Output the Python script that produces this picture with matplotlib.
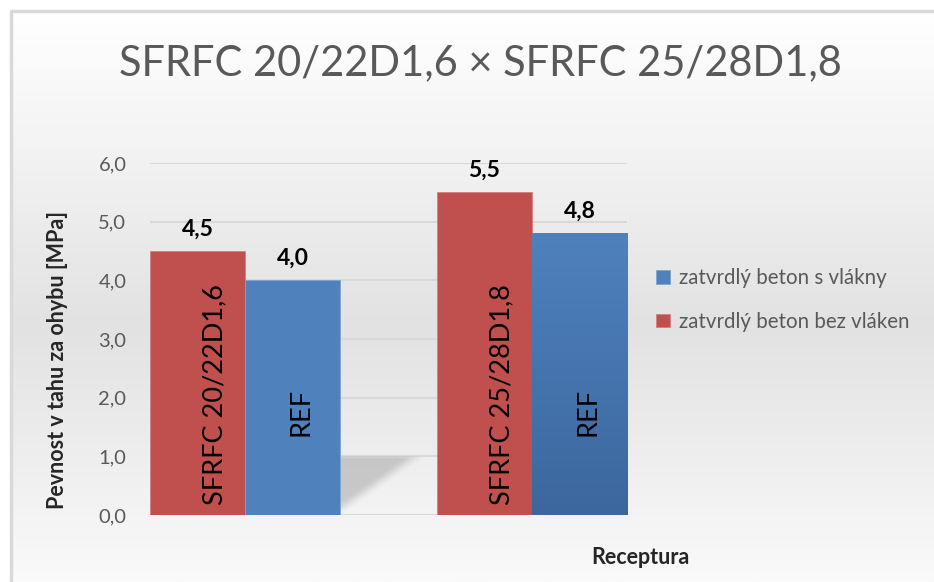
import numpy as np
import matplotlib.pyplot as plt
from matplotlib.colors import LinearSegmentedColormap

plt.rcParams['font.family'] = ['Lato', 'DejaVu Sans']

# data
recepty = ['SFRFC 20/22D1,6', 'SFRFC 25/28D1,8']
bez_vlaken = [4.5, 5.5]      # red series
s_vlakny = [4.0, 4.8]        # blue series
ref_labels = ['REF', 'REF']
yticks = [0, 1, 2, 3, 4, 5, 6]

red = '#C0504D'
blue = '#4F81BD'
grey_txt = '#595959'

fig = plt.figure(figsize=(9.34, 5.82), dpi=100)

# chart area background with vertical gradient and thin frame
bg = fig.add_axes([0, 0, 1, 1], zorder=-10)
bg.set_xlim(0, 934)
bg.set_ylim(582, 0)
bg.axis('off')
stops = [(0.0, '#ffffff'), (0.3, '#f0f0f0'), (0.55, '#e2e2e2'), (0.78, '#eeeeee'), (1.0, '#fafafa')]
cmap_bg = LinearSegmentedColormap.from_list('bg', stops)
grad = np.linspace(0, 1, 256).reshape(-1, 1)
bg.imshow(grad, cmap=cmap_bg, extent=[10, 934, 582, 10], aspect='auto')
bg.plot([11, 11, 934], [582, 11, 11], color='#d9d9d9', lw=2.5)

ax = fig.add_axes([150 / 934, 1 - 515 / 582, 477 / 934, 352 / 582])
ax.patch.set_alpha(0)

w = 0.332
x = np.arange(len(recepty))
ax.set_xlim(-w, x[-1] + w)
ax.set_ylim(0, 6)


def smooth(t):
    t = np.clip(t, 0, 1)
    return t * t * (3 - 2 * t)


# soft floor shadow between the groups
sx = np.linspace(0, 1, 200)
sy = np.linspace(0, 1, 120)
XX, YY = np.meshgrid(sx, sy)
d = XX + (1 - YY)
alpha = 0.36 * smooth((1.05 - d) / 0.3) * smooth(YY / 0.12) * smooth((1 - YY) / 0.08 + 0.4)
shadow = np.zeros((120, 200, 4))
shadow[..., :3] = 0.5
shadow[..., 3] = alpha
ax.imshow(shadow, extent=[w, w + 0.29, 0, 1.0], origin='lower', aspect='auto',
          interpolation='bilinear', zorder=1)

for yv in yticks:
    ax.axhline(yv, color='#d9d9d9', lw=1.5, zorder=0)

r = ax.bar(x - w / 2, bez_vlaken, w, color=red, edgecolor='#d4807d', linewidth=0.6,
           label='zatvrdlý beton bez vláken', zorder=3)
b = ax.bar(x + w / 2, s_vlakny, w, color=blue, edgecolor='#7fa3d0', linewidth=0.6,
           label='zatvrdlý beton s vlákny', zorder=3)

# darker gradient on the second blue bar
bar = b[1]
cmap_b = LinearSegmentedColormap.from_list('b', ['#3C679E', '#4F81BD'])
im = ax.imshow(np.linspace(0, 1, 100).reshape(-1, 1), cmap=cmap_b, origin='lower',
               extent=[bar.get_x(), bar.get_x() + bar.get_width(), 0, bar.get_height()],
               aspect='auto', zorder=3.5)
im.set_clip_path(bar)

for bars, vals in ((r, bez_vlaken), (b, s_vlakny)):
    for bb, v in zip(bars, vals):
        ax.annotate(f'{v:.1f}'.replace('.', ','), (bb.get_x() + bb.get_width() / 2, v),
                    xytext=(0, 16), textcoords='offset points', ha='center', va='center',
                    fontsize=16.5, fontweight='bold', color='black', zorder=5)

# names written inside the bars
for i, name in enumerate(recepty):
    ax.text(x[i] - w / 2 + 0.06, 0.17, name, rotation=90, ha='center', va='bottom',
            fontsize=19.5, color='black', zorder=5)
    ax.text(x[i] + w / 2 + 0.03, 1.75, ref_labels[i], rotation=90, ha='center', va='center',
            fontsize=19.5, color='black', zorder=5)

ax.set_xticks([])
ax.set_yticks(yticks)
ax.set_yticklabels([f'{t:.1f}'.replace('.', ',') for t in yticks], fontsize=14.5, color=grey_txt)
ax.tick_params(axis='y', length=0, pad=17)
for s in ax.spines.values():
    s.set_visible(False)

fig.text(58 / 934, 1 - 360 / 582, 'Pevnost v tahu za ohybu [MPa]', rotation=90, ha='center',
         va='center', fontsize=15.5, fontweight='bold', color='#262626')
fig.text(640 / 934, 1 - 558 / 582, 'Receptura', ha='center', va='center', fontsize=15.5,
         fontweight='bold', color='#262626')
fig.text(480 / 934, 1 - 63 / 582, 'SFRFC 20/22D1,6 × SFRFC 25/28D1,8', ha='center', va='center',
         fontsize=30, color=grey_txt)

handles = [b, r]
leg = fig.legend(handles, [h.get_label() for h in handles], loc='center left',
                 bbox_to_anchor=(642 / 934, 1 - 300 / 582), frameon=False, fontsize=14.8,
                 handlelength=0.65, handleheight=0.65, handletextpad=0.45, labelspacing=1.15,
                 labelcolor=grey_txt, borderpad=0.2)

fig.savefig('out.png', dpi=100)
